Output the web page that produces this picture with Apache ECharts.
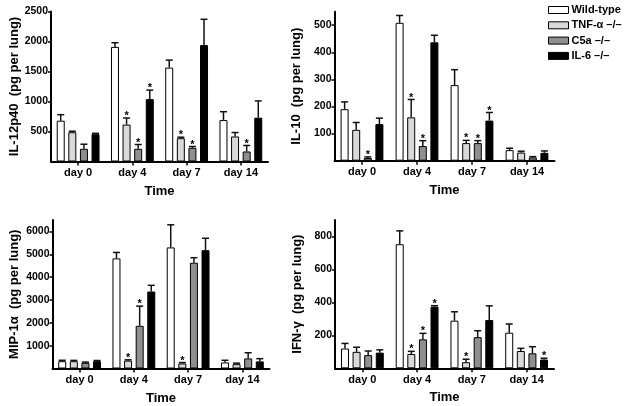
<!DOCTYPE html>
<html><head><meta charset="utf-8">
<script src="https://cdn.jsdelivr.net/npm/echarts@6/dist/echarts.min.js"></script>
<style>html,body{margin:0;padding:0;background:#fff}#c{width:629px;height:406px}</style>
</head><body><div id="c"></div>
<script>
const categories = ['day 0', 'day 4', 'day 7', 'day 14'];
const genotypes = ['Wild-type', 'TNF-α –/–', 'C5a –/–', 'IL-6 –/–'];

// IL-12p40 (rows: Wild-type, TNF-α, C5a, IL-6)
const il12Mean  = [[680, 1910, 1565, 690], [488, 615, 388, 417], [212, 211, 228, 167], [455, 1040, 1940, 730]];
const il12Upper = [[780, 1980, 1690, 830], [505, 725, 405, 483], [288, 283, 250, 267], [470, 1190, 2370, 1010]];
const il12Star  = [[0, 0, 0, 0], [0, 1, 1, 0], [0, 1, 1, 1], [0, 1, 0, 0]];
const il12Ticks = [500, 1000, 1500, 2000, 2500];

// IL-10
const il10Mean  = [[190, 509, 279, 39], [114, 160, 65, 30], [10, 54, 65, 12], [135, 437, 148, 29]];
const il10Upper = [[217, 536, 336, 46], [141, 226, 75, 35], [14, 74, 74, 15], [157, 463, 178, 36]];
const il10Star  = [[0, 0, 0, 0], [0, 1, 1, 0], [1, 1, 1, 0], [0, 0, 1, 0]];
const il10Ticks = [100, 200, 300, 400, 500];

// MIP-1α
const mipMean  = [[320, 4820, 5300, 265], [320, 345, 220, 190], [250, 1870, 4630, 440], [320, 3370, 5180, 310]];
const mipUpper = [[360, 5080, 6290, 360], [355, 380, 260, 235], [280, 2730, 4850, 690], [350, 3640, 5700, 430]];
const mipStar  = [[0, 0, 0, 0], [0, 1, 1, 0], [0, 1, 0, 0], [0, 0, 0, 0]];
const mipTicks = [1000, 2000, 3000, 4000, 5000, 6000];

// IFN-γ
const ifnMean  = [[120, 753, 289, 216], [100, 87, 37, 105], [80, 176, 189, 91], [95, 374, 293, 53]];
const ifnUpper = [[151, 834, 343, 269], [128, 103, 55, 121], [105, 212, 228, 131], [112, 380, 379, 61]];
const ifnStar  = [[0, 0, 0, 0], [0, 1, 1, 0], [0, 1, 0, 0], [0, 1, 0, 1]];
const ifnTicks = [200, 400, 600, 800];

const FONT = "'Liberation Sans', Arial, Helvetica, sans-serif";
const fills = ['#ffffff', '#d9d9d9', '#8f8f8f', '#000000'];
const BW = 8, GAP = 0.45;
const total = 4 * BW + 3 * GAP * BW;
const offsets = [0, 1, 2, 3].map(i => -total / 2 + BW / 2 + i * BW * (1 + GAP));

const panels = [
  {mean: il12Mean, upper: il12Upper, star: il12Star, ticks: il12Ticks, max: 2500, name: 'IL-12p40  (pg per lung)',
   grid: {left: 51, top: 11.5, width: 217, height: 150}, nameGap: 30},
  {mean: il10Mean, upper: il10Upper, star: il10Star, ticks: il10Ticks, max: 550, name: 'IL-10  (pg per lung)',
   grid: {left: 334.5, top: 11.7, width: 220, height: 149}, nameGap: 32},
  {mean: mipMean, upper: mipUpper, star: mipStar, ticks: mipTicks, max: 6500, name: 'MIP-1α  (pg per lung)',
   grid: {left: 52.5, top: 220, width: 217, height: 148.5}, nameGap: 32},
  {mean: ifnMean, upper: ifnUpper, star: ifnStar, ticks: ifnTicks, max: 900, name: 'IFN-γ  (pg per lung)',
   grid: {left: 335, top: 220, width: 219, height: 148.3}, nameGap: 31}
];

const grid = [], xAxis = [], yAxis = [], series = [];
panels.forEach((p, pi) => {
  grid.push(Object.assign({containLabel: false}, p.grid));
  xAxis.push({
    type: 'category', gridIndex: pi, data: categories,
    axisLine: {show: true, lineStyle: {color: '#000', width: 2}},
    axisTick: {show: true, alignWithLabel: true, length: 4, lineStyle: {color: '#000', width: 1.5}},
    axisLabel: {color: '#000', fontSize: 11, fontWeight: 'bold', fontFamily: FONT, margin: 6},
    name: 'Time', nameLocation: 'middle', nameGap: 23,
    nameTextStyle: {color: '#000', fontSize: 13, fontWeight: 'bold', fontFamily: FONT},
    splitLine: {show: false}
  });
  yAxis.push({
    type: 'value', gridIndex: pi, min: 0, max: p.max, interval: p.ticks[0],
    axisLine: {show: true, lineStyle: {color: '#000', width: 2}},
    axisTick: {show: true, length: 3, customValues: p.ticks, lineStyle: {color: '#000', width: 1.5}},
    axisLabel: {color: '#000', fontSize: 10.5, fontWeight: 'bold', fontFamily: FONT, margin: 3,
      customValues: p.ticks,
      formatter: v => (p.ticks.indexOf(v) >= 0 ? String(v) : '')},
    splitLine: {show: false},
    name: p.name, nameLocation: 'middle', nameRotate: 90, nameGap: p.nameGap,
    nameTextStyle: {color: '#000', fontSize: 13, fontWeight: 'bold', fontFamily: FONT}
  });
  p.mean.forEach((row, g) => {
    series.push({
      type: 'bar', name: genotypes[g], xAxisIndex: pi, yAxisIndex: pi, data: row,
      barWidth: BW, barGap: (GAP * 100) + '%',
      itemStyle: {color: fills[g], borderColor: '#000', borderWidth: 1},
      silent: true, animation: false
    });
  });
  const errData = [];
  p.mean.forEach((row, g) => row.forEach((v, ci) => errData.push([ci, v, p.upper[g][ci], g, p.star[g][ci]])));
  series.push({
    type: 'custom', xAxisIndex: pi, yAxisIndex: pi, data: errData, z: 5, silent: true, animation: false,
    encode: {x: 0, y: 1},
    renderItem: (params, api) => {
      const ci = api.value(0), v = api.value(1), up = api.value(2), g = api.value(3), st = api.value(4);
      const b = api.coord([ci, v]), t = api.coord([ci, up]);
      const x = b[0] + offsets[g];
      const ch = [
        {type: 'line', shape: {x1: x, y1: b[1], x2: x, y2: t[1]}, style: {stroke: '#111', lineWidth: 1.5}},
        {type: 'line', shape: {x1: x - 3.5, y1: t[1], x2: x + 3.5, y2: t[1]}, style: {stroke: '#111', lineWidth: 1.5}}
      ];
      if (st) ch.push({type: 'text', style: {text: '*', x: x, y: t[1] - 2, align: 'center', verticalAlign: 'middle',
        font: 'bold 11px ' + FONT, fill: '#000'}});
      return {type: 'group', children: ch};
    }
  });
});

const chart = echarts.init(document.getElementById('c'), null, {renderer: 'canvas'});
chart.setOption({
  backgroundColor: '#fff',
  animation: false,
  grid, xAxis, yAxis, series,
  legend: {
    orient: 'vertical', left: 548, top: 4.5, padding: 0, itemWidth: 20, itemHeight: 7, itemGap: 4.3,
    icon: 'rect', selectedMode: false, data: genotypes,
    itemStyle: {borderColor: '#000', borderWidth: 1},
    textStyle: {color: '#000', fontSize: 11, fontWeight: 'bold', fontFamily: FONT, padding: [0, 0, 0, -2]}
  }
});
</script></body></html>
